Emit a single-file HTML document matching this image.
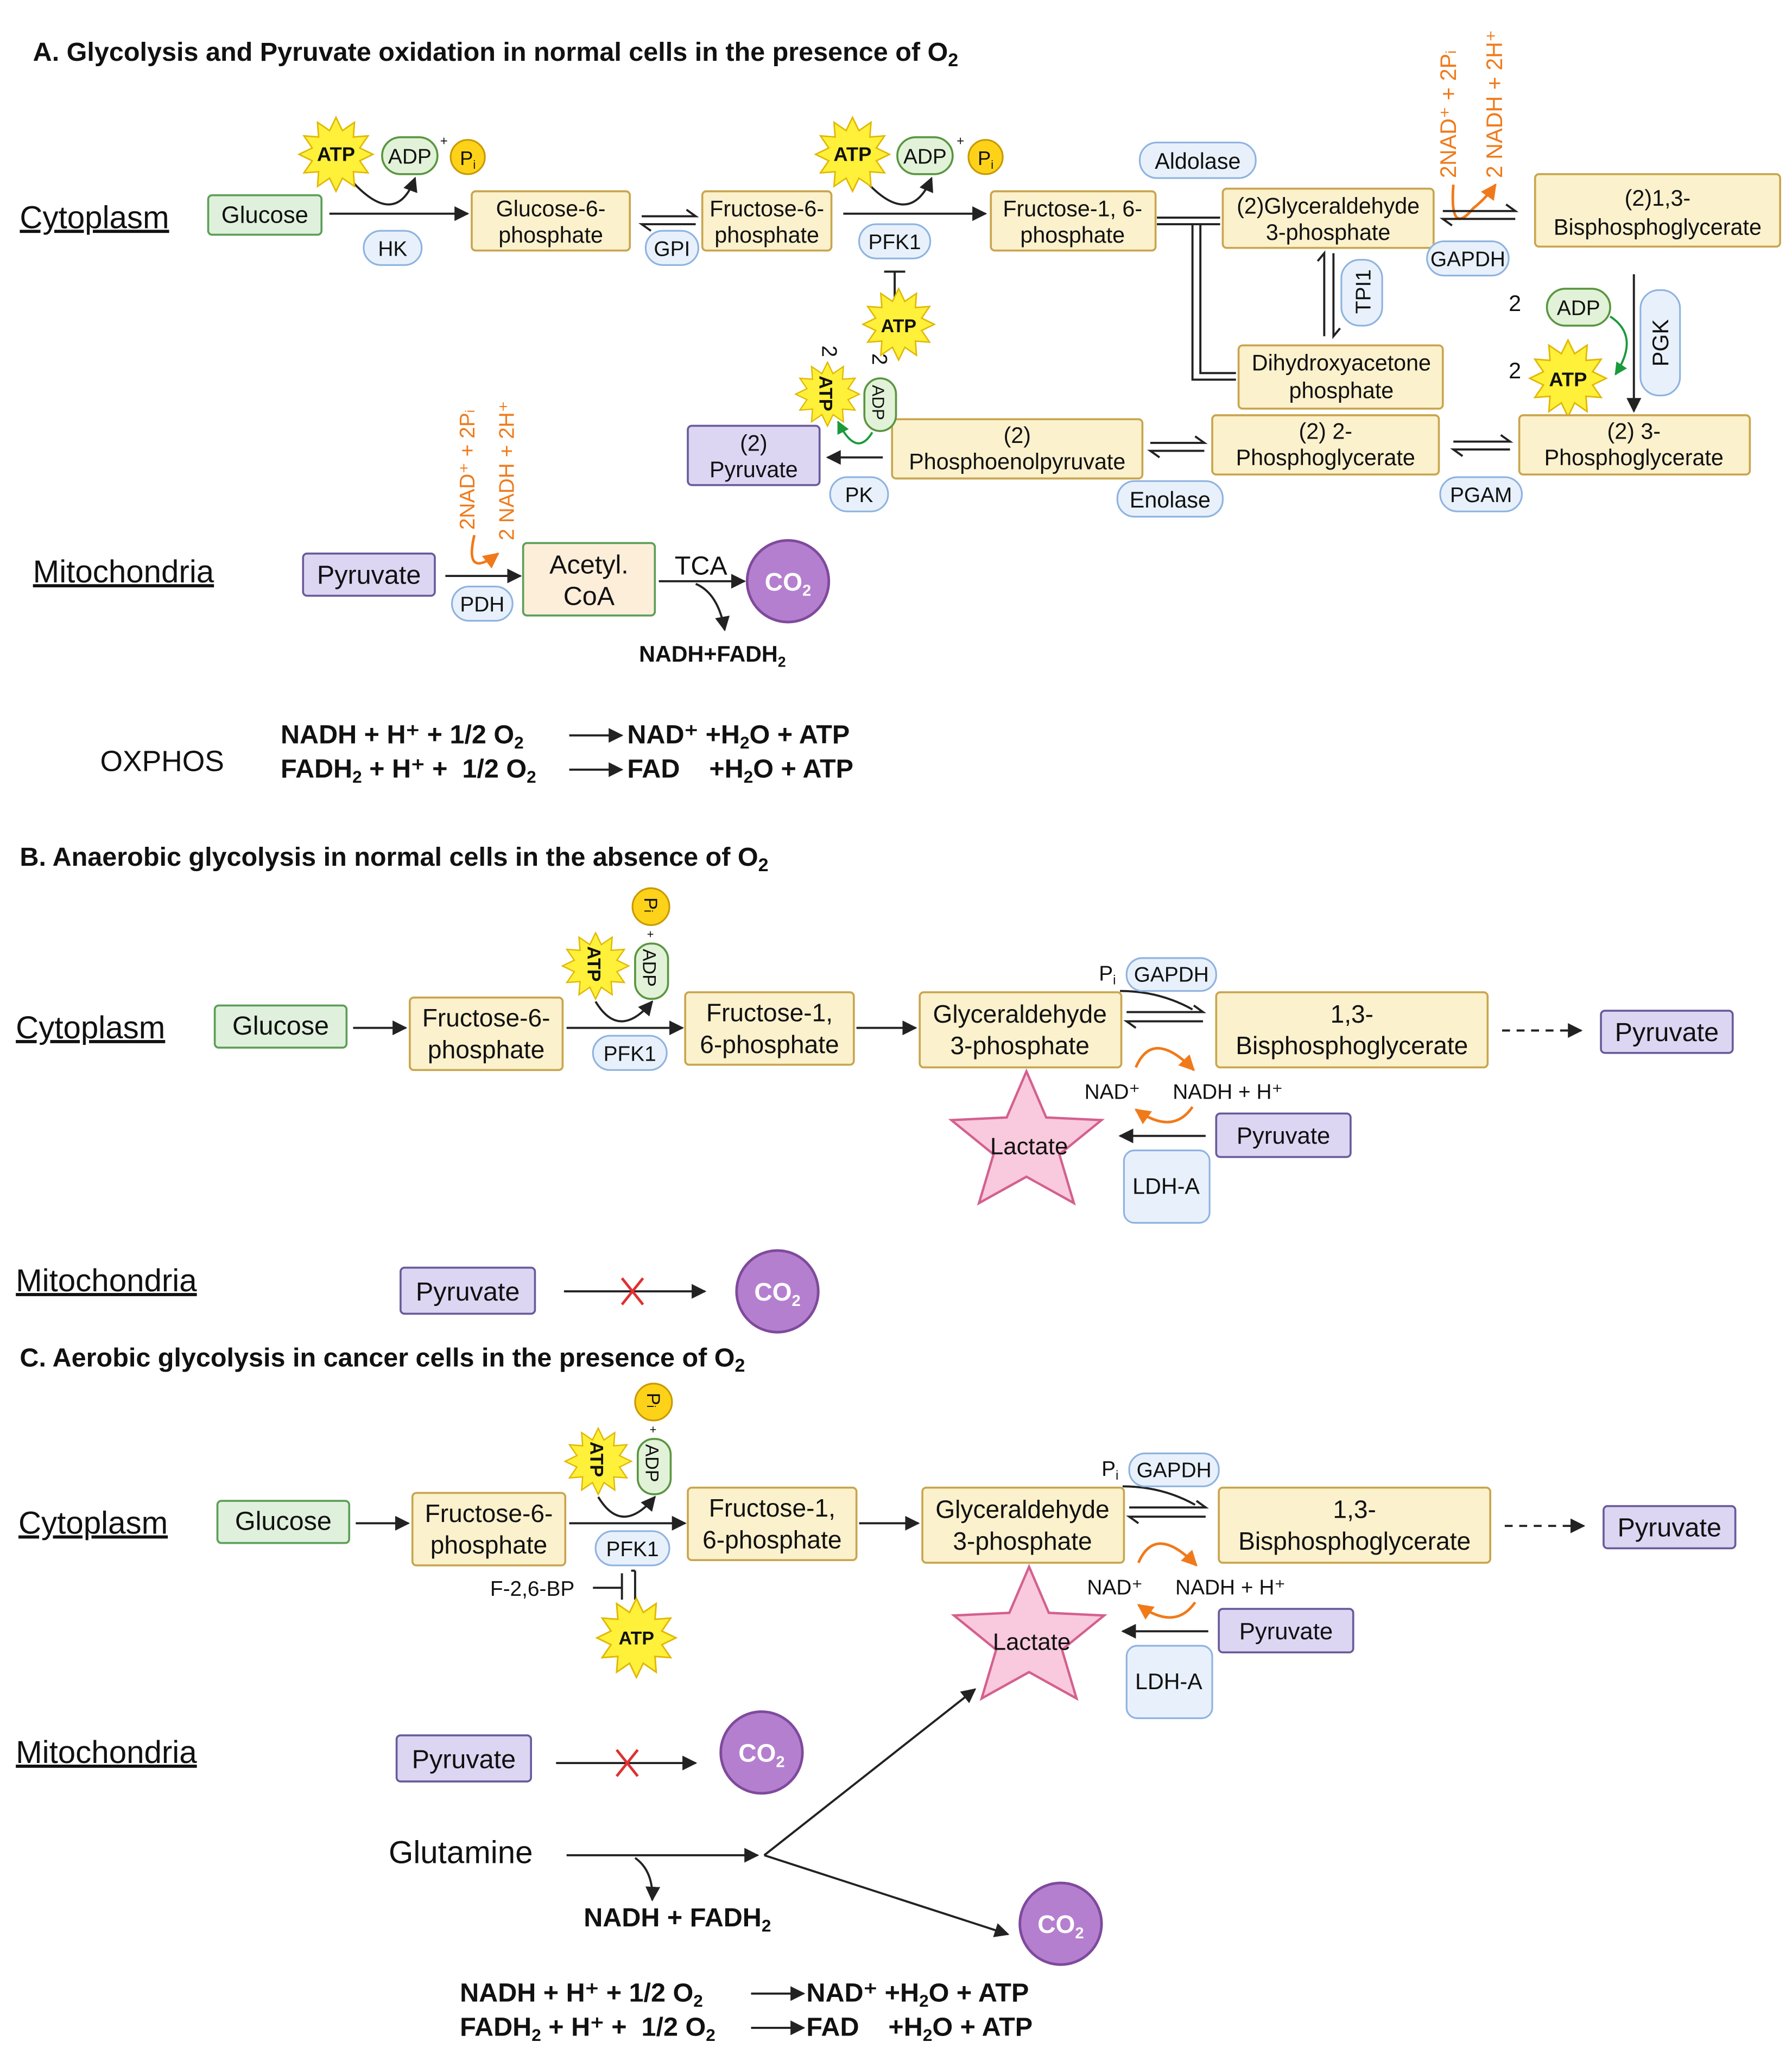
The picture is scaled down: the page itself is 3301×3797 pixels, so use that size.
<!DOCTYPE html>
<html><head><meta charset="utf-8"><style>
html,body{margin:0;padding:0;background:#fff;}
svg{display:block}
text{font-family:"Liberation Sans",sans-serif;fill:#111;white-space:pre}
.b{font-weight:bold}
.box{fill:#fbf1cc;stroke:#c9a54e;stroke-width:1.5}
.pur{fill:#dcd6f3;stroke:#6a5a9a;stroke-width:1.5}
.grn{fill:#dff1dc;stroke:#5c9e58;stroke-width:1.5}
.pill{fill:#e8f1fb;stroke:#8fb3e0;stroke-width:1.3}
.adp{fill:#e2f2d8;stroke:#5a9640;stroke-width:1.5}
.pi{fill:#ffd21a;stroke:#c79a00;stroke-width:1.3}
.ln{stroke:#222;stroke-width:1.6;fill:none}
.or{stroke:#f07a1a;stroke-width:2;fill:none}
.ot{fill:#f07a1a}
.co2{fill:#b57fcf;stroke:#7f4a9c;stroke-width:2}
</style></head><body>
<svg width="3301" height="3797" viewBox="0 0 1360 1564" xmlns="http://www.w3.org/2000/svg">
<defs>
<marker id="a" viewBox="0 0 10 10" refX="9" refY="5" markerWidth="7" markerHeight="7" orient="auto-start-reverse"><path d="M0,0L10,5L0,10z" fill="#222"/></marker>
<marker id="ao" viewBox="0 0 10 10" refX="9" refY="5" markerWidth="6" markerHeight="6" orient="auto"><path d="M0,0L10,5L0,10z" fill="#f07a1a"/></marker>
<marker id="ag" viewBox="0 0 10 10" refX="9" refY="5" markerWidth="6" markerHeight="6" orient="auto"><path d="M0,0L10,5L0,10z" fill="#1a9a3a"/></marker>
<symbol id="st" viewBox="-31 -31 62 62" overflow="visible"><polygon points="30,0 19.3,5.2 26,15 14.1,14.1 15,26 5.2,19.3 0,30 -5.2,19.3 -15,26 -14.1,14.1 -26,15 -19.3,5.2 -30,0 -19.3,-5.2 -26,-15 -14.1,-14.1 -15,-26 -5.2,-19.3 0,-30 5.2,-19.3 15,-26 14.1,-14.1 26,-15 19.3,-5.2" fill="#fff03a" stroke="#e0b800" stroke-width="1.2"/></symbol>
<symbol id="lac" viewBox="-63 -63 126 126" overflow="visible"><polygon points="0,-55 15,-20 57,-18 25,8 36,45 0,25 -36,45 -25,8 -57,-18 -15,-20" fill="#f9c9dd" stroke="#d4608e" stroke-width="1.8"/></symbol>
</defs>

<!-- ===== A ===== -->
<text x="25" y="46" font-size="20" class="b">A. Glycolysis and Pyruvate oxidation in normal cells in the presence of O<tspan font-size="14" dy="4">2</tspan></text>
<text x="15" y="173" font-size="24" text-decoration="underline">Cytoplasm</text>
<rect x="158" y="148" width="86" height="30" rx="3" class="grn"/><text x="201" y="169" font-size="18" text-anchor="middle">Glucose</text>
<line x1="250" y1="162" x2="355" y2="162" class="ln" marker-end="url(#a)"/>
<path d="M265,135 Q300,175 315,135" class="ln" marker-end="url(#a)"/>
<use href="#st" x="226" y="88" width="58" height="58"/><text x="255" y="122" font-size="15" class="b" text-anchor="middle">ATP</text>
<rect x="290" y="104" width="42" height="28" rx="14" class="adp"/><text x="311" y="124" font-size="16" text-anchor="middle">ADP</text>
<text x="334" y="110" font-size="10">+</text>
<circle cx="355" cy="119" r="13" class="pi"/><text x="355" y="125" font-size="15" text-anchor="middle">P<tspan font-size="9" dy="3">i</tspan></text>
<rect x="276" y="175" width="44" height="26" rx="13" class="pill"/><text x="298" y="194" font-size="16" text-anchor="middle">HK</text>
<rect x="358" y="145" width="120" height="45" rx="3" class="box"/><text x="418" y="164" font-size="17" text-anchor="middle">Glucose-6-</text><text x="418" y="184" font-size="17" text-anchor="middle">phosphate</text>
<path d="M487,164 H528 l-7,-5 M528,170 H487 l7,5" class="ln"/>
<rect x="490" y="175" width="40" height="26" rx="13" class="pill"/><text x="510" y="194" font-size="16" text-anchor="middle">GPI</text>
<rect x="533" y="145" width="98" height="45" rx="3" class="box"/><text x="582" y="164" font-size="17" text-anchor="middle">Fructose-6-</text><text x="582" y="184" font-size="17" text-anchor="middle">phosphate</text>
<line x1="640" y1="162" x2="748" y2="162" class="ln" marker-end="url(#a)"/>
<path d="M655,135 Q690,175 707,135" class="ln" marker-end="url(#a)"/>
<use href="#st" x="618" y="88" width="58" height="58"/><text x="647" y="122" font-size="15" class="b" text-anchor="middle">ATP</text>
<rect x="681" y="104" width="42" height="28" rx="14" class="adp"/><text x="702" y="124" font-size="16" text-anchor="middle">ADP</text>
<text x="726" y="110" font-size="10">+</text>
<circle cx="748" cy="119" r="13" class="pi"/><text x="748" y="125" font-size="15" text-anchor="middle">P<tspan font-size="9" dy="3">i</tspan></text>
<rect x="652" y="170" width="54" height="26" rx="13" class="pill"/><text x="679" y="189" font-size="16" text-anchor="middle">PFK1</text>
<path d="M679,206 V226 M671,206 H687" class="ln"/>
<use href="#st" x="654" y="218" width="56" height="56"/><text x="682" y="252" font-size="14" class="b" text-anchor="middle">ATP</text>
<rect x="752" y="145" width="125" height="45" rx="3" class="box"/><text x="814" y="164" font-size="17" text-anchor="middle">Fructose-1, 6-</text><text x="814" y="184" font-size="17" text-anchor="middle">phosphate</text>
<rect x="865" y="108" width="88" height="27" rx="13" class="pill"/><text x="909" y="128" font-size="17" text-anchor="middle">Aldolase</text>
<path d="M878,165 H926 M878,170 H926 M905,170 V288 H938 M911,170 V283 H938" class="ln"/>
<rect x="928" y="143" width="160" height="45" rx="3" class="box"/><text x="1008" y="162" font-size="17" text-anchor="middle">(2)Glyceraldehyde</text><text x="1008" y="182" font-size="17" text-anchor="middle">3-phosphate</text>
<text transform="translate(1105,135) rotate(-90)" font-size="17" class="ot">2NAD⁺ + 2P<tspan font-size="11">i</tspan></text>
<text transform="translate(1140,135) rotate(-90)" font-size="17" class="ot">2 NADH + 2H⁺</text>
<path d="M1103,140 Q1100,180 1118,158 Q1128,150 1135,140" class="or" marker-end="url(#ao)"/>
<path d="M1095,160 H1150 l-7,-5 M1150,166 H1095 l7,5" class="ln"/>
<rect x="1083" y="183" width="62" height="26" rx="13" class="pill"/><text x="1114" y="202" font-size="16" text-anchor="middle">GAPDH</text>
<rect x="1165" y="132" width="186" height="55" rx="3" class="box"/><text x="1258" y="156" font-size="17" text-anchor="middle">(2)1,3-</text><text x="1258" y="178" font-size="17" text-anchor="middle">Bisphosphoglycerate</text>
<line x1="1240" y1="208" x2="1240" y2="312" class="ln" marker-end="url(#a)"/>
<rect x="1245" y="220" width="30" height="80" rx="14" class="pill"/><text transform="translate(1266,278) rotate(-90)" font-size="17">PGK</text>
<text x="1145" y="236" font-size="17">2</text><text x="1145" y="287" font-size="17">2</text>
<rect x="1174" y="219" width="48" height="28" rx="14" class="adp"/><text x="1198" y="239" font-size="16" text-anchor="middle">ADP</text>
<path d="M1222,240 Q1245,255 1226,284" fill="none" stroke="#1a9a3a" stroke-width="1.6" marker-end="url(#ag)"/>
<use href="#st" x="1160" y="257" width="60" height="60"/><text x="1190" y="293" font-size="15" class="b" text-anchor="middle">ATP</text>
<path d="M1005,255 V192 l-5,6 M1012,192 V255 l5,-6" class="ln"/>
<rect x="1018" y="197" width="31" height="50" rx="14" class="pill"/><text transform="translate(1040,238) rotate(-90)" font-size="16">TPI1</text>
<rect x="940" y="262" width="155" height="48" rx="3" class="box"/><text x="1018" y="281" font-size="17" text-anchor="middle">Dihydroxyacetone</text><text x="1018" y="302" font-size="17" text-anchor="middle">phosphate</text>
<rect x="1153" y="315" width="175" height="45" rx="3" class="box"/><text x="1240" y="333" font-size="17" text-anchor="middle">(2) 3-</text><text x="1240" y="353" font-size="17" text-anchor="middle">Phosphoglycerate</text>
<path d="M1103,335 H1146 l-7,-5 M1146,341 H1103 l7,5" class="ln"/>
<rect x="1093" y="362" width="62" height="26" rx="13" class="pill"/><text x="1124" y="381" font-size="16" text-anchor="middle">PGAM</text>
<rect x="920" y="315" width="172" height="45" rx="3" class="box"/><text x="1006" y="333" font-size="17" text-anchor="middle">(2) 2-</text><text x="1006" y="353" font-size="17" text-anchor="middle">Phosphoglycerate</text>
<path d="M873,336 H914 l-7,-5 M914,342 H873 l7,5" class="ln"/>
<rect x="848" y="365" width="80" height="27" rx="13" class="pill"/><text x="888" y="385" font-size="17" text-anchor="middle">Enolase</text>
<rect x="677" y="318" width="190" height="45" rx="3" class="box"/><text x="772" y="336" font-size="17" text-anchor="middle">(2)</text><text x="772" y="356" font-size="17" text-anchor="middle">Phosphoenolpyruvate</text>
<line x1="670" y1="347" x2="628" y2="347" class="ln" marker-end="url(#a)"/>
<rect x="630" y="362" width="44" height="26" rx="13" class="pill"/><text x="652" y="381" font-size="16" text-anchor="middle">PK</text>
<use href="#st" x="603" y="274" width="50" height="50"/><text transform="translate(622,285) rotate(90)" font-size="14" class="b">ATP</text>
<rect x="656" y="287" width="24" height="40" rx="12" class="adp"/><text transform="translate(662,292) rotate(90)" font-size="13">ADP</text>
<text transform="translate(624,262) rotate(90)" font-size="16">2</text><text transform="translate(662,268) rotate(90)" font-size="16">2</text>
<path d="M662,328 Q650,348 636,320" fill="none" stroke="#1a9a3a" stroke-width="1.6" marker-end="url(#ag)"/>
<rect x="522" y="323" width="100" height="45" rx="3" class="pur"/><text x="572" y="342" font-size="17" text-anchor="middle">(2)</text><text x="572" y="362" font-size="17" text-anchor="middle">Pyruvate</text>

<text x="25" y="442" font-size="24" text-decoration="underline">Mitochondria</text>
<rect x="230" y="420" width="100" height="32" rx="3" class="pur"/><text x="280" y="443" font-size="20" text-anchor="middle">Pyruvate</text>
<line x1="338" y1="437" x2="395" y2="437" class="ln" marker-end="url(#a)"/>
<rect x="343" y="445" width="46" height="26" rx="13" class="pill"/><text x="366" y="464" font-size="16" text-anchor="middle">PDH</text>
<text transform="translate(360,402) rotate(-90)" font-size="16" class="ot">2NAD⁺ + 2P<tspan font-size="10">i</tspan></text>
<text transform="translate(390,410) rotate(-90)" font-size="16" class="ot">2 NADH + 2H⁺</text>
<path d="M360,406 Q352,440 378,420" class="or" marker-end="url(#ao)"/>
<rect x="397" y="412" width="100" height="55" rx="3" fill="#fdeeda" stroke="#5c9e58" stroke-width="1.5"/><text x="447" y="435" font-size="20" text-anchor="middle">Acetyl.</text><text x="447" y="459" font-size="20" text-anchor="middle">CoA</text>
<line x1="500" y1="441" x2="565" y2="441" class="ln" marker-end="url(#a)"/>
<text x="532" y="436" font-size="20" text-anchor="middle">TCA</text>
<path d="M528,443 Q545,450 550,478" class="ln" marker-end="url(#a)"/>
<text x="485" y="502" font-size="17" class="b">NADH+FADH<tspan font-size="11" dy="4">2</tspan></text>
<circle cx="598" cy="441" r="31" class="co2"/><text x="598" y="448" font-size="19" class="b" text-anchor="middle" style="fill:#fff">CO<tspan font-size="12" dy="4">2</tspan></text>

<text x="76" y="585" font-size="22">OXPHOS</text>
<text x="213" y="564" font-size="20" class="b">NADH + H⁺ + 1/2 O<tspan font-size="13" dy="4">2</tspan></text>
<line x1="432" y1="558" x2="472" y2="558" class="ln" marker-end="url(#a)"/>
<text x="476" y="564" font-size="20" class="b">NAD⁺ +H<tspan font-size="13" dy="4">2</tspan><tspan dy="-4">O + ATP</tspan></text>
<text x="213" y="590" font-size="20" class="b">FADH<tspan font-size="13" dy="4">2</tspan><tspan dy="-4"> + H⁺ +  1/2 O</tspan><tspan font-size="13" dy="4">2</tspan></text>
<line x1="432" y1="584" x2="472" y2="584" class="ln" marker-end="url(#a)"/>
<text x="476" y="590" font-size="20" class="b">FAD    +H<tspan font-size="13" dy="4">2</tspan><tspan dy="-4">O + ATP</tspan></text>

<!-- ===== B & C ===== -->
<g id="B">
<text x="12" y="788" font-size="24" text-decoration="underline">Cytoplasm</text>
<rect x="163" y="763" width="100" height="32" rx="3" class="grn"/><text x="213" y="785" font-size="20" text-anchor="middle">Glucose</text>
<line x1="268" y1="780" x2="308" y2="780" class="ln" marker-end="url(#a)"/>
<rect x="311" y="757" width="116" height="55" rx="3" class="box"/><text x="369" y="779" font-size="19" text-anchor="middle">Fructose-6-</text><text x="369" y="803" font-size="19" text-anchor="middle">phosphate</text>
<line x1="430" y1="780" x2="518" y2="780" class="ln" marker-end="url(#a)"/>
<path d="M452,760 Q470,790 495,760" class="ln" marker-end="url(#a)"/>
<use href="#st" x="426" y="707" width="52" height="52"/><text transform="translate(446,718) rotate(90)" font-size="14" class="b">ATP</text>
<rect x="482" y="716" width="25" height="42" rx="12" class="adp"/><text transform="translate(488,720) rotate(90)" font-size="14">ADP</text>
<text x="491" y="712" font-size="9">+</text>
<circle cx="494" cy="688" r="14" class="pi"/><text transform="translate(489,681) rotate(90)" font-size="14">P<tspan font-size="9">i</tspan></text>
<rect x="450" y="786" width="56" height="26" rx="13" class="pill"/><text x="478" y="805" font-size="16" text-anchor="middle">PFK1</text>
<rect x="520" y="753" width="128" height="55" rx="3" class="box"/><text x="584" y="775" font-size="19" text-anchor="middle">Fructose-1,</text><text x="584" y="799" font-size="19" text-anchor="middle">6-phosphate</text>
<line x1="650" y1="780" x2="695" y2="780" class="ln" marker-end="url(#a)"/>
<rect x="698" y="753" width="153" height="57" rx="3" class="box"/><text x="774" y="776" font-size="19" text-anchor="middle">Glyceraldehyde</text><text x="774" y="800" font-size="19" text-anchor="middle">3-phosphate</text>
<path d="M855,768 H913 l-7,-5 M913,775 H855 l7,5" class="ln"/>
<path d="M850,752 Q880,752 905,766" class="ln"/>
<text x="834" y="744" font-size="16">P<tspan font-size="10" dy="3">i</tspan></text>
<rect x="855" y="727" width="68" height="25" rx="12" class="pill"/><text x="889" y="745" font-size="16" text-anchor="middle">GAPDH</text>
<rect x="923" y="753" width="206" height="57" rx="3" class="box"/><text x="1026" y="776" font-size="19" text-anchor="middle">1,3-</text><text x="1026" y="800" font-size="19" text-anchor="middle">Bisphosphoglycerate</text>
<line x1="1140" y1="782" x2="1200" y2="782" class="ln" stroke-dasharray="6,5" stroke-width="2" marker-end="url(#a)"/>
<rect x="1215" y="767" width="100" height="32" rx="3" class="pur"/><text x="1265" y="790" font-size="20" text-anchor="middle">Pyruvate</text>
<path d="M862,810 Q875,780 906,812" class="or" stroke-width="3" marker-end="url(#ao)"/>
<path d="M905,840 Q890,862 862,842" class="or" stroke-width="3" marker-end="url(#ao)"/>
<text x="823" y="834" font-size="16">NAD⁺</text>
<text x="890" y="834" font-size="16">NADH + H⁺</text>
<rect x="923" y="845" width="102" height="33" rx="3" class="pur"/><text x="974" y="868" font-size="18" text-anchor="middle">Pyruvate</text>
<line x1="915" y1="862" x2="850" y2="862" class="ln" stroke-width="2.5" marker-end="url(#a)"/>
<use href="#lac" x="716" y="805" width="126" height="126"/><text x="781" y="876" font-size="18" text-anchor="middle">Lactate</text>
<rect x="853" y="873" width="65" height="55" rx="8" class="pill"/><text x="885" y="906" font-size="17" text-anchor="middle">LDH-A</text>
</g>
<text x="15" y="657" font-size="20" class="b">B. Anaerobic glycolysis in normal cells in the absence of O<tspan font-size="14" dy="4">2</tspan></text>
<text x="12" y="980" font-size="24" text-decoration="underline">Mitochondria</text>
<rect x="304" y="962" width="102" height="35" rx="3" class="pur"/><text x="355" y="987" font-size="20" text-anchor="middle">Pyruvate</text>
<line x1="428" y1="980" x2="535" y2="980" class="ln" stroke-width="2.5" marker-end="url(#a)"/>
<path d="M472,970 L488,990 M488,970 L472,990" stroke="#e03030" stroke-width="2"/>
<circle cx="590" cy="980" r="31" class="co2"/><text x="590" y="987" font-size="19" class="b" text-anchor="middle" style="fill:#fff">CO<tspan font-size="12" dy="4">2</tspan></text>

<text x="15" y="1037" font-size="20" class="b">C. Aerobic glycolysis in cancer cells in the presence of O<tspan font-size="14" dy="4">2</tspan></text>
<use href="#B" x="2" y="376"/>
<text x="372" y="1211" font-size="16">F-2,6-BP</text>
<path d="M450,1205 H472 M472,1194 V1214 M482,1192 V1214 M482,1192 H479" class="ln"/>
<use href="#st" x="452" y="1212" width="62" height="62"/><text x="483" y="1248" font-size="14" class="b" text-anchor="middle">ATP</text>
<text x="12" y="1338" font-size="24" text-decoration="underline">Mitochondria</text>
<rect x="301" y="1317" width="102" height="35" rx="3" class="pur"/><text x="352" y="1342" font-size="20" text-anchor="middle">Pyruvate</text>
<line x1="422" y1="1338" x2="528" y2="1338" class="ln" stroke-width="2.5" marker-end="url(#a)"/>
<path d="M468,1328 L484,1348 M484,1328 L468,1348" stroke="#e03030" stroke-width="2"/>
<circle cx="578" cy="1330" r="31" class="co2"/><text x="578" y="1337" font-size="19" class="b" text-anchor="middle" style="fill:#fff">CO<tspan font-size="12" dy="4">2</tspan></text>
<text x="295" y="1414" font-size="24">Glutamine</text>
<line x1="430" y1="1408" x2="575" y2="1408" class="ln" stroke-width="2" marker-end="url(#a)"/>
<path d="M482,1410 Q496,1420 495,1442" class="ln" marker-end="url(#a)"/>
<line x1="580" y1="1408" x2="740" y2="1282" class="ln" stroke-width="2.5" marker-end="url(#a)"/>
<line x1="580" y1="1408" x2="765" y2="1468" class="ln" stroke-width="2.5" marker-end="url(#a)"/>
<circle cx="805" cy="1460" r="31" class="co2"/><text x="805" y="1467" font-size="19" class="b" text-anchor="middle" style="fill:#fff">CO<tspan font-size="12" dy="4">2</tspan></text>
<text x="443" y="1462" font-size="20" class="b">NADH + FADH<tspan font-size="13" dy="4">2</tspan></text>
<text x="349" y="1519" font-size="20" class="b">NADH + H⁺ + 1/2 O<tspan font-size="13" dy="4">2</tspan></text>
<line x1="570" y1="1513" x2="610" y2="1513" class="ln" marker-end="url(#a)"/>
<text x="612" y="1519" font-size="20" class="b">NAD⁺ +H<tspan font-size="13" dy="4">2</tspan><tspan dy="-4">O + ATP</tspan></text>
<text x="349" y="1545" font-size="20" class="b">FADH<tspan font-size="13" dy="4">2</tspan><tspan dy="-4"> + H⁺ +  1/2 O</tspan><tspan font-size="13" dy="4">2</tspan></text>
<line x1="570" y1="1539" x2="610" y2="1539" class="ln" marker-end="url(#a)"/>
<text x="612" y="1545" font-size="20" class="b">FAD    +H<tspan font-size="13" dy="4">2</tspan><tspan dy="-4">O + ATP</tspan></text>
</svg>
</body></html>
